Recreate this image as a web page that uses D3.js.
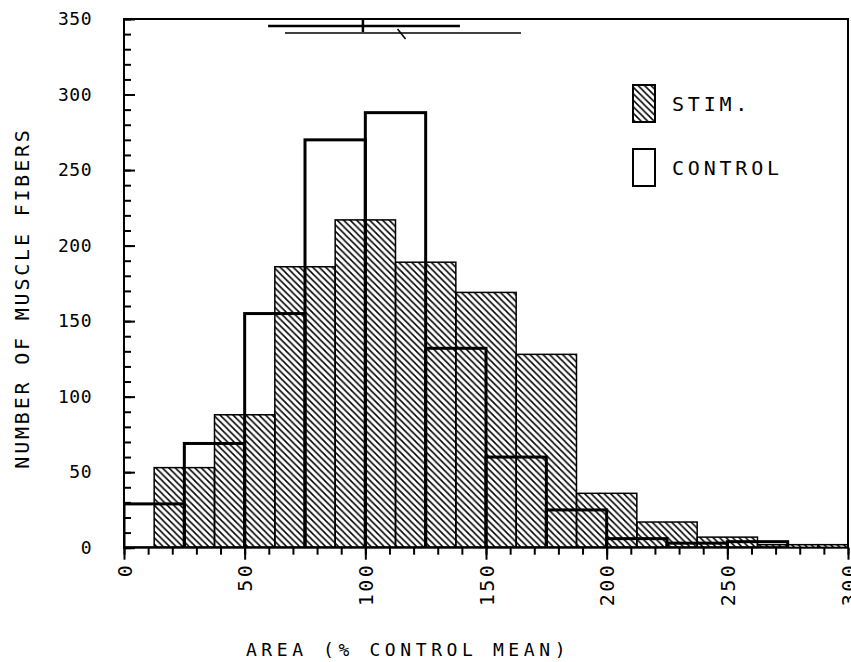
<!DOCTYPE html>
<html>
<head>
<meta charset="utf-8">
<script src="https://cdn.jsdelivr.net/npm/d3@7"></script>
<style>
  body { margin: 0; background: #fff; }
  text { font-family: "DejaVu Sans Mono", "Liberation Mono", monospace; fill: #000; }
</style>
</head>
<body>
<div id="chart"></div>
<script>
// bin starts (% control mean) and counts
const stimBins = [12.5, 37.5, 62.5, 87.5, 112.5, 137.5, 162.5, 187.5, 212.5, 237.5, 262.5, 287.5];
const stimCounts = [53, 88, 186, 217, 189, 169, 128, 36, 17, 7, 2, 2];
const controlBins = [0, 25, 50, 75, 100, 125, 150, 175, 200, 225, 250, 275];
const controlCounts = [29, 69, 155, 270, 288, 132, 60, 25, 6, 3, 4, 0];
const binWidth = 25;

// mean +/- SD bars at the top (control first, then stim)
const meanLabels = ["CONTROL", "STIM."];
const meanValues = [99, 115];
const sdLow = [59.7, 66.7];
const sdHigh = [139.2, 164.5];

const xTicks = [0, 50, 100, 150, 200, 250, 300];
const yTicks = [0, 50, 100, 150, 200, 250, 300, 350];

const W = 851, H = 662;
const margin = { top: 19, right: 3, bottom: 114.3, left: 124 };

let svg = d3.select("#chart")
    .append("svg")
    .attr("width", W)
    .attr("height", H);

let x = d3.scaleLinear().domain([0, 300]).range([margin.left, W - margin.right]);
let y = d3.scaleLinear().domain([0, 350]).range([H - margin.bottom, margin.top]);

// hatch pattern for the stim bars
let defs = svg.append("defs");
const s = 6.5;
defs.append("pattern")
    .attr("id", "hatch")
    .attr("patternUnits", "userSpaceOnUse")
    .attr("width", s).attr("height", s)
    .append("path")
    .attr("d", `M0,0L${s},${s}M${-s / 4},${s * 3 / 4}L${s / 4},${s * 5 / 4}M${s * 3 / 4},${-s / 4}L${s * 5 / 4},${s / 4}`)
    .attr("stroke", "#000")
    .attr("stroke-width", 1.5);

defs.append("clipPath").attr("id", "plotclip")
    .append("rect")
    .attr("x", x(0)).attr("y", y(350))
    .attr("width", x(300) - x(0)).attr("height", y(0) - y(350));

let plot = svg.append("g").attr("clip-path", "url(#plotclip)");

// stim bars
plot.selectAll(".stim")
    .data(stimBins)
    .enter()
    .append("rect")
    .attr("class", "stim")
    .attr("x", d => x(d))
    .attr("width", x(binWidth) - x(0))
    .attr("y", (d, i) => y(stimCounts[i]))
    .attr("height", (d, i) => y(0) - y(stimCounts[i]))
    .attr("fill", "url(#hatch)")
    .attr("stroke", "#000")
    .attr("stroke-width", 1.5);

// control bars, outline only
plot.selectAll(".control")
    .data(controlBins)
    .enter()
    .append("rect")
    .attr("class", "control")
    .attr("x", d => x(d))
    .attr("width", x(binWidth) - x(0))
    .attr("y", (d, i) => y(controlCounts[i]))
    .attr("height", (d, i) => y(0) - y(controlCounts[i]))
    .attr("fill", "none")
    .attr("stroke", "#000")
    .attr("stroke-width", 3);

// mean +/- SD lines
const sdY = [26, 33];
const sdW = [2.5, 1.5];
meanValues.forEach((m, i) => {
    svg.append("line")
        .attr("x1", x(sdLow[i])).attr("x2", x(sdHigh[i]))
        .attr("y1", sdY[i]).attr("y2", sdY[i])
        .attr("stroke", "#000").attr("stroke-width", sdW[i]);
});
svg.append("line")
    .attr("x1", x(meanValues[0])).attr("x2", x(meanValues[0]))
    .attr("y1", y(350)).attr("y2", sdY[0] + 6)
    .attr("stroke", "#000").attr("stroke-width", 2.5);
svg.append("line")
    .attr("x1", x(meanValues[1]) - 4).attr("x2", x(meanValues[1]) + 4)
    .attr("y1", sdY[1] - 4).attr("y2", sdY[1] + 6)
    .attr("stroke", "#000").attr("stroke-width", 1.5);

// frame
svg.append("rect")
    .attr("x", x(0)).attr("y", y(350))
    .attr("width", x(300) - x(0)).attr("height", y(0) - y(350))
    .attr("fill", "none")
    .attr("stroke", "#000")
    .attr("stroke-width", 2);

// x axis: minor ticks every 10, major every 50
let xMinor = svg.append("g")
    .attr("transform", "translate(0," + y(0) + ")")
    .call(d3.axisBottom(x).tickValues(d3.range(0, 301, 10)).tickSize(7).tickFormat(""));
let xMajor = svg.append("g")
    .attr("transform", "translate(0," + y(0) + ")")
    .call(d3.axisBottom(x).tickValues(xTicks).tickSize(12).tickFormat(d3.format("d")));
xMajor.selectAll("text")
    .attr("transform", "translate(0,3)rotate(-90)")
    .attr("x", -12)
    .attr("y", 0)
    .attr("dy", "0.36em")
    .style("text-anchor", "end")
    .style("font-size", "20px")
    .style("letter-spacing", "2.5px");

// y axis: ticks point inward
let yMinor = svg.append("g")
    .attr("transform", "translate(" + x(0) + ",0)")
    .call(d3.axisRight(y).tickValues(d3.range(0, 351, 10)).tickSize(7).tickFormat(""));
let yMajor = svg.append("g")
    .attr("transform", "translate(" + x(0) + ",0)")
    .call(d3.axisRight(y).tickValues(yTicks).tickSize(11).tickFormat(""));
let yLab = svg.append("g")
    .attr("transform", "translate(" + x(0) + ",0)")
    .call(d3.axisLeft(y).tickValues(yTicks).tickSize(0).tickPadding(32).tickFormat(d3.format("d")));
yLab.selectAll("text")
    .style("font-size", "18px")
    .style("letter-spacing", "0.5px");

[xMinor, xMajor, yMinor, yMajor, yLab].forEach(g => {
    g.select(".domain").remove();
    g.selectAll("line").attr("stroke", "#000").attr("stroke-width", 2);
});

// axis titles
svg.append("text")
    .attr("x", 408).attr("y", 656)
    .attr("text-anchor", "middle")
    .style("font-size", "18px")
    .style("letter-spacing", "4.6px")
    .text("AREA (% CONTROL MEAN)");

svg.append("text")
    .attr("transform", "translate(29,298)rotate(-90)")
    .attr("text-anchor", "middle")
    .style("font-size", "20px")
    .style("letter-spacing", "2.8px")
    .text("NUMBER OF MUSCLE FIBERS");

// legend
const legendY = [85, 149];
const legendText = ["STIM.", "CONTROL"];
const legendFill = ["url(#hatch)", "#fff"];
let legend = svg.append("g");
legendText.forEach((t, i) => {
    legend.append("rect")
        .attr("x", 633).attr("y", legendY[i])
        .attr("width", 22).attr("height", 37)
        .attr("fill", legendFill[i])
        .attr("stroke", "#000")
        .attr("stroke-width", 2);
    legend.append("text")
        .attr("x", 672).attr("y", legendY[i] + 26)
        .style("font-size", "20px")
        .style("letter-spacing", "3.8px")
        .text(t);
});
</script>
</body>
</html>
